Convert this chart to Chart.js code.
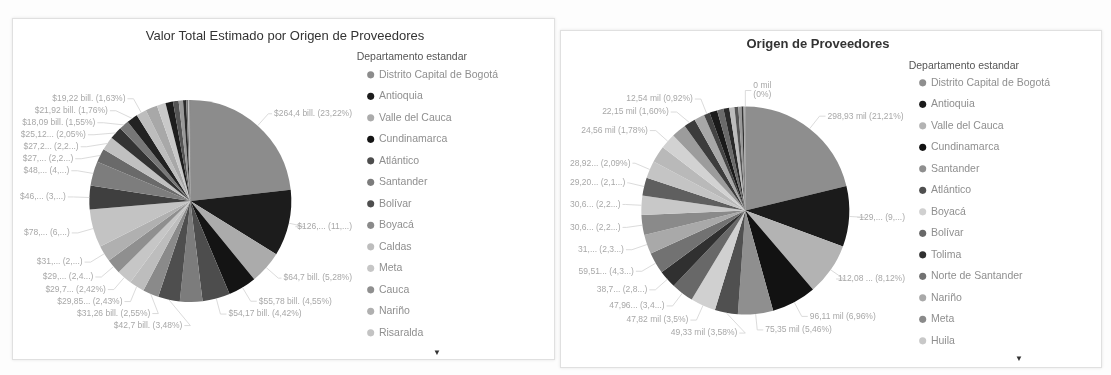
<!DOCTYPE html>
<html><head><meta charset="utf-8">
<script src="https://cdn.jsdelivr.net/npm/chart.js@4.4.0/dist/chart.umd.min.js"></script>
<style>
html,body{margin:0;padding:0;background:#fdfdfd;width:1111px;height:375px;overflow:hidden;font-family:"Liberation Sans",Arial,sans-serif;}
.panel{position:absolute;background:#fff;border:1px solid #e0e0e0;box-shadow:0 0 3px rgba(0,0,0,0.10);}
.title{position:absolute;transform:translate(-50%,-50%);white-space:nowrap;color:#333;}
.arrow{position:absolute;font-size:8px;color:#333;transform:translate(-50%,-50%);}
canvas{position:absolute;}
</style></head>
<body>
<div class="panel" style="left:12px;top:18px;width:541px;height:340px;"></div>
<div class="panel" style="left:560px;top:30px;width:540px;height:336px;"></div>
<canvas id="c1" width="541" height="340" style="left:12px;top:18px;"></canvas>
<canvas id="c2" width="540" height="336" style="left:560px;top:30px;"></canvas>
<div class="title" style="left:285px;top:35px;font-size:13px;">Valor Total Estimado por Origen de Proveedores</div>
<div class="title" style="left:818px;top:43px;font-size:13px;font-weight:bold;">Origen de Proveedores</div>
<div class="arrow" style="left:437px;top:352px;">▼</div>
<div class="arrow" style="left:1019px;top:358px;">▼</div>
<script>
// ---- Left chart: Valor Total Estimado (share %) ----
const leftCategories = ['Distrito Capital de Bogotá','Antioquia','Valle del Cauca','Cundinamarca','Atlántico','Santander','Bolívar','Boyacá','Caldas','Meta','Cauca','Nariño','Risaralda','Tolima','Norte de Santander','Huila','Magdalena','Córdoba','Quindío','Cesar','Sucre','Casanare','La Guajira','Caquetá','Chocó','Putumayo','Arauca','San Andrés','Amazonas','Guaviare','Vichada'];
const leftValues = [23.22,10.6,5.28,4.55,4.42,3.6,3.48,2.55,2.43,2.42,2.40,2.6,6.1,3.8,3.9,2.2,2.2,2.05,1.55,1.76,1.63,1.9,1.4,1.2,0.9,0.7,0.5,0.3,0.2,0.1,0.06];
const leftLabels = ['$264,4 bill. (23,22%)','$126,... (11,...)','$64,7 bill. (5,28%)','$55,78 bill. (4,55%)','$54,17 bill. (4,42%)','','$42,7 bill. (3,48%)','$31,26 bill. (2,55%)','$29,85... (2,43%)','$29,7... (2,42%)','$29,... (2,4...)','$31,... (2,...)','$78,... (6,...)','$46,... (3,...)','$48,... (4,...)','$27,... (2,2...)','$27,2... (2,2...)','$25,12... (2,05%)','$18,09 bill. (1,55%)','$21,92 bill. (1,76%)','$19,22 bill. (1,63%)','','','','','','','','','',''];
const leftColors = ['#8c8c8c','#1c1c1c','#ababab','#141414','#4d4d4d','#7c7c7c','#4e4e4e','#8a8a8a','#bdbdbd','#c6c6c6','#8f8f8f','#b0b0b0','#c3c3c3','#3f3f3f','#7d7d7d','#6a6a6a','#c0c0c0','#333333','#777777','#222222','#bdbdbd','#a8a8a8','#c9c9c9','#1d1d1d','#555555','#999999','#2a2a2a','#777777','#bbbbbb','#666666','#444444'];

// ---- Right chart: Origen de Proveedores (share %) ----
const rightCategories = ['Distrito Capital de Bogotá','Antioquia','Valle del Cauca','Cundinamarca','Santander','Atlántico','Boyacá','Bolívar','Tolima','Norte de Santander','Nariño','Meta','Huila','Magdalena','Córdoba','Caldas','Cauca','Quindío','Cesar','Risaralda','Sucre','Casanare','La Guajira','Caquetá','Chocó','Putumayo','Arauca','San Andrés','Amazonas','Guaviare','Vaupés'];
const rightValues = [21.21,9.4,8.12,6.96,5.46,3.58,3.9,3.47,2.8,3.3,3.0,3.1,3.0,2.8,2.7,2.6,2.4,2.3,1.8,1.6,0.92,1.2,1.0,0.9,0.8,0.6,0.5,0.3,0.2,0.08,0];
const rightLabels = ['298,93 mil (21,21%)','129,... (9,...)','112,08 ... (8,12%)','96,11 mil (6,96%)','75,35 mil (5,46%)','49,33 mil (3,58%)','47,82 mil (3,5%)','47,96... (3,4...)','38,7... (2,8...)','59,51... (4,3...)','31,... (2,3...)','30,6... (2,2...)','30,6... (2,2...)','29,20... (2,1...)','28,92... (2,09%)','','24,56 mil (1,78%)','','22,15 mil (1,60%)','','12,54 mil (0,92%)','','','','','','','','','','0 mil\n(0%)'];
const rightColors = ['#8e8e8e','#1b1b1b','#b3b3b3','#121212','#8f8f8f','#505050','#d0d0d0','#686868','#303030','#727272','#a9a9a9','#8a8a8a','#c8c8c8','#5f5f5f','#c4c4c4','#b9b9b9','#d2d2d2','#9c9c9c','#3c3c3c','#a8a8a8','#444444','#1a1a1a','#6a6a6a','#2a2a2a','#bcbcbc','#555555','#999999','#333333','#aaaaaa','#777777','#888888'];

const FAM = '"Liberation Sans", Arial, sans-serif';

function outLabelPlugin(cfg) {
  return {
    id: 'outLabels',
    afterDatasetsDraw(chart) {
      const texts = chart.data.datasets[0].outTexts;
      const meta = chart.getDatasetMeta(0);
      const ctx = chart.ctx;
      ctx.save();
      ctx.font = cfg.font;
      const items = [];
      meta.data.forEach((arc, i) => {
        const t = texts[i];
        if (!t) return;
        const p = arc.getProps(['x','y','startAngle','endAngle','outerRadius'], true);
        const mid = (p.startAngle + p.endAngle) / 2;
        const R = p.outerRadius + cfg.offset;
        items.push({t, cx: p.x, cy: p.y, r: p.outerRadius, R, mid,
          right: Math.cos(mid) >= 0, ty: p.y + R * Math.sin(mid)});
      });
      [true, false].forEach(side => {
        const arr = items.filter(it => it.right === side).sort((a, b) => a.ty - b.ty);
        for (let k = 0; k < arr.length; k++) {
          if (k === 0) { if (arr[k].ty < cfg.minY) arr[k].ty = cfg.minY; }
          else if (arr[k].ty < arr[k-1].ty + cfg.gap) arr[k].ty = arr[k-1].ty + cfg.gap;
        }
        for (let k = arr.length - 1; k >= 0; k--) {
          const lim = k === arr.length - 1 ? cfg.maxY : arr[k+1].ty - cfg.gap;
          if (arr[k].ty > lim) arr[k].ty = lim;
        }
      });
      items.forEach(it => {
        const dy = it.ty - it.cy;
        const dx = Math.abs(dy) < it.R ? Math.sqrt(it.R * it.R - dy * dy) : 0;
        const s = it.right ? 1 : -1;
        const x0 = it.cx + it.r * Math.cos(it.mid), y0 = it.cy + it.r * Math.sin(it.mid);
        const x1 = it.cx + s * dx, x2 = x1 + s * cfg.tail;
        const lines = it.t.split('\n');
        const w = Math.max(...lines.map(l => ctx.measureText(l).width));
        let tx = it.right ? x2 + 2 : x2 - 2 - w;
        if (tx < cfg.minX) tx = cfg.minX;
        if (tx + w > cfg.maxX) tx = cfg.maxX - w;
        const endX = it.right ? tx - 2 : tx + w + 2;
        ctx.strokeStyle = cfg.lineColor; ctx.lineWidth = 0.8;
        ctx.beginPath(); ctx.moveTo(x0, y0); ctx.lineTo(x1, it.ty); ctx.lineTo(endX, it.ty); ctx.stroke();
        ctx.fillStyle = cfg.color; ctx.textBaseline = 'middle'; ctx.textAlign = 'left';
        lines.forEach((l, j) => ctx.fillText(l, tx, it.ty + (j - (lines.length - 1) / 2) * cfg.lineH));
      });
      ctx.restore();
    }
  };
}

function legendOpts(titlePad) {
  return {
    position: 'right', align: 'start',
    title: {display: true, text: 'Departamento estandar', color: '#555', position: 'start',
      font: {size: 10.5, family: FAM}, padding: titlePad},
    labels: {usePointStyle: true, pointStyle: 'circle', boxWidth: 6, boxHeight: 5, padding: 11,
      color: '#8f8f8f', font: {size: 10.5, family: FAM},
      filter: (item) => item.index < 13}
  };
}

new Chart(document.getElementById('c1'), {
  type: 'pie',
  data: {labels: leftCategories, datasets: [{data: leftValues, outTexts: leftLabels,
    backgroundColor: leftColors, borderWidth: 0, radius: 101}]},
  options: {
    responsive: false, animation: false,
    layout: {padding: {left: 12, right: 45, top: 28, bottom: 2}},
    plugins: {tooltip: {enabled: false}, title: {display: false}, legend: legendOpts({top: 6, bottom: -6})}
  },
  plugins: [outLabelPlugin({font: '8.5px ' + FAM, offset: 16, tail: 6, gap: 12, minY: 58, maxY: 312,
    minX: 8, maxX: 340, lineColor: '#d2d2d2', color: '#a8a8a8', lineH: 9})]
});

new Chart(document.getElementById('c2'), {
  type: 'pie',
  data: {labels: rightCategories, datasets: [{data: rightValues, outTexts: rightLabels,
    backgroundColor: rightColors, borderWidth: 0, radius: 104}]},
  options: {
    responsive: false, animation: false,
    layout: {padding: {left: 22, right: 40, top: 25, bottom: 0}},
    plugins: {tooltip: {enabled: false}, title: {display: false}, legend: legendOpts({top: 6, bottom: -7})}
  },
  plugins: [outLabelPlugin({font: '8.5px ' + FAM, offset: 16, tail: 6, gap: 13, minY: 55, maxY: 322,
    minX: 10, maxX: 345, lineColor: '#d2d2d2', color: '#a8a8a8', lineH: 9})]
});
</script>
</body></html>
